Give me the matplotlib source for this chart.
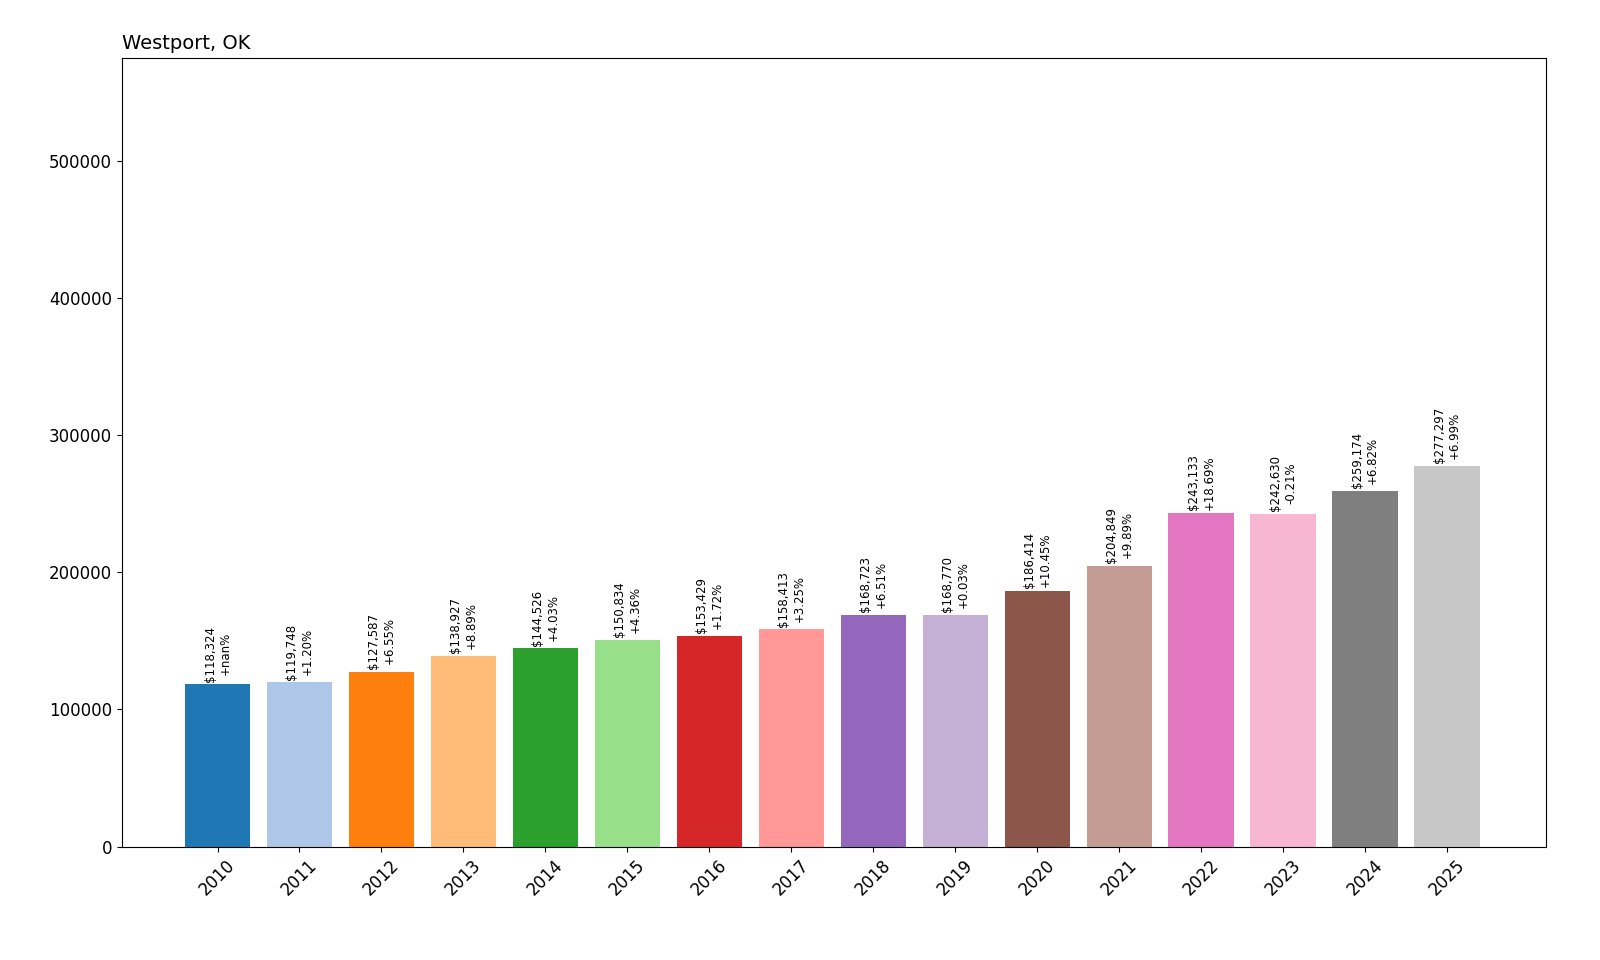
import matplotlib
matplotlib.use("Agg")
import matplotlib.pyplot as plt

years = [str(y) for y in range(2010, 2026)]
values = [118324, 119748, 127587, 138927, 144526, 150834, 153429, 158413,
          168723, 168770, 186414, 204849, 243133, 242630, 259174, 277297]
changes = ["+nan%", "+1.20%", "+6.55%", "+8.89%", "+4.03%", "+4.36%", "+1.72%", "+3.25%",
           "+6.51%", "+0.03%", "+10.45%", "+9.89%", "+18.69%", "-0.21%", "+6.82%", "+6.99%"]

fig = plt.figure(figsize=(16, 9.6), dpi=100)
ax = fig.add_axes([0.076, 0.118, 0.890, 0.822])
colors = plt.get_cmap("tab20").colors
x = range(len(years))
bars = ax.bar(x, values, color=[colors[i % 20] for i in x])
for b, v, c in zip(bars, values, changes):
    ax.text(b.get_x() + b.get_width() / 2, v + 2000, f"${v:,}\n{c}",
            rotation=90, ha="center", va="bottom", fontsize=8.5)
ax.set_xticks(list(x))
ax.set_xticklabels(years, rotation=45, fontsize=12)
ax.tick_params(axis="y", labelsize=12)
ax.set_ylim(0, 575000)
ax.set_xlim(-1.17, 16.2)
ax.set_title("Westport, OK", loc="left", fontsize=14)
fig.savefig("out.png")
